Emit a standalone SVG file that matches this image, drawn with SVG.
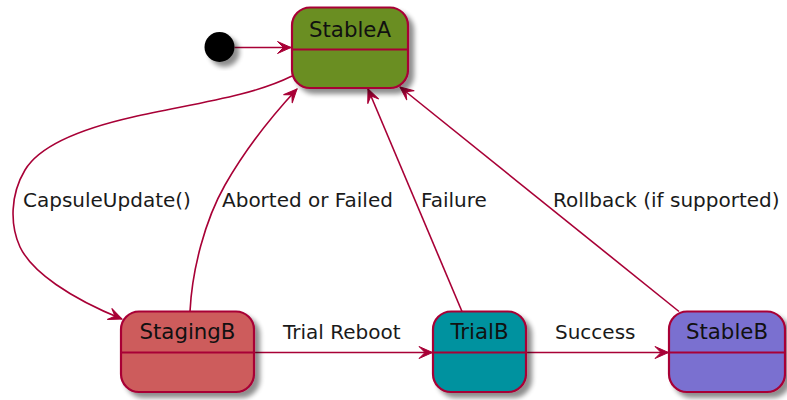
<svg xmlns="http://www.w3.org/2000/svg" width="787" height="400" viewBox="0 0 787 400">
  <style>
    .state { stroke: #A80036; stroke-width: 2.2; }
    .divider { stroke: #A80036; stroke-width: 2.2; }
    .name { font-family: "DejaVu Sans", sans-serif; font-size: 21.3px; fill: #111; text-anchor: middle; }
    .label { font-family: "DejaVu Sans", sans-serif; font-size: 20px; fill: #1a1a1a; }
    .edge { fill: none; stroke: #A80036; stroke-width: 1.6; marker-end: url(#arrow); }
  </style>
  <defs>
    <filter id="shadow" x="-20%" y="-20%" width="150%" height="150%">
      <feGaussianBlur in="SourceAlpha" stdDeviation="2.5"/>
      <feOffset dx="5" dy="5" result="blur"/>
      <feComponentTransfer>
        <feFuncA type="linear" slope="0.45"/>
      </feComponentTransfer>
      <feMerge>
        <feMergeNode/>
        <feMergeNode in="SourceGraphic"/>
      </feMerge>
    </filter>
    <marker id="arrow" viewBox="-15 -8 16 16" refX="0" refY="0" markerWidth="16" markerHeight="16" markerUnits="userSpaceOnUse" orient="auto">
      <path d="M0,0 L-13.5,-6 L-7.5,0 L-13.5,6 Z" fill="#A80036" stroke="#A80036" stroke-width="1"/>
    </marker>
  </defs>

  <!-- transitions -->
  <g id="connectors">
    <path class="edge" d="M234.5,47.5 L291,47.5"/>
    <path class="edge" d="M292,76 C250,97 190,104 133,117 C80,129 40,145 25,170 C10,195 10,225 20,247 C32,272 70,298 122,319"/>
    <path class="edge" d="M190,311.5 C192,270 205,220 225,185 C245,150 270,118 297,89"/>
    <path class="edge" d="M462,311.5 L368,89"/>
    <path class="edge" d="M679,311.5 L400,87"/>
    <path class="edge" d="M254,352.5 L432.5,352.5"/>
    <path class="edge" d="M526,352.5 L668.5,352.5"/>
    <text class="label" x="23" y="207">CapsuleUpdate()</text>
    <text class="label" x="222" y="207">Aborted or Failed</text>
    <text class="label" x="421" y="207">Failure</text>
    <text class="label" x="553" y="207">Rollback (if supported)</text>
    <text class="label" x="283" y="339">Trial Reboot</text>
    <text class="label" x="555" y="339">Success</text>
  </g>

  <g id="start">
    <circle cx="219.5" cy="47" r="15" fill="#000" filter="url(#shadow)"/>
  </g>

  <g id="StableA">
    <rect class="state" x="292" y="7.5" width="116" height="80.5" rx="18" ry="18" fill="#6B8E23" filter="url(#shadow)"/>
    <line class="divider" x1="292" y1="49.5" x2="408" y2="49.5"/>
    <text class="name" x="350" y="36.5">StableA</text>
  </g>

  <g id="StagingB">
    <rect class="state" x="121" y="311.5" width="133" height="80.5" rx="18" ry="18" fill="#CD5C5C" filter="url(#shadow)"/>
    <line class="divider" x1="121" y1="352.5" x2="254" y2="352.5"/>
    <text class="name" x="187.5" y="339">StagingB</text>
  </g>

  <g id="TrialB">
    <rect class="state" x="433" y="311.5" width="93" height="80.5" rx="18" ry="18" fill="#00929F" filter="url(#shadow)"/>
    <line class="divider" x1="433" y1="352.5" x2="526" y2="352.5"/>
    <text class="name" x="479.5" y="339">TrialB</text>
  </g>

  <g id="StableB">
    <rect class="state" x="669" y="311.5" width="116" height="80.5" rx="18" ry="18" fill="#7A70D0" filter="url(#shadow)"/>
    <line class="divider" x1="669" y1="352.5" x2="785" y2="352.5"/>
    <text class="name" x="727" y="339">StableB</text>
  </g>
</svg>
